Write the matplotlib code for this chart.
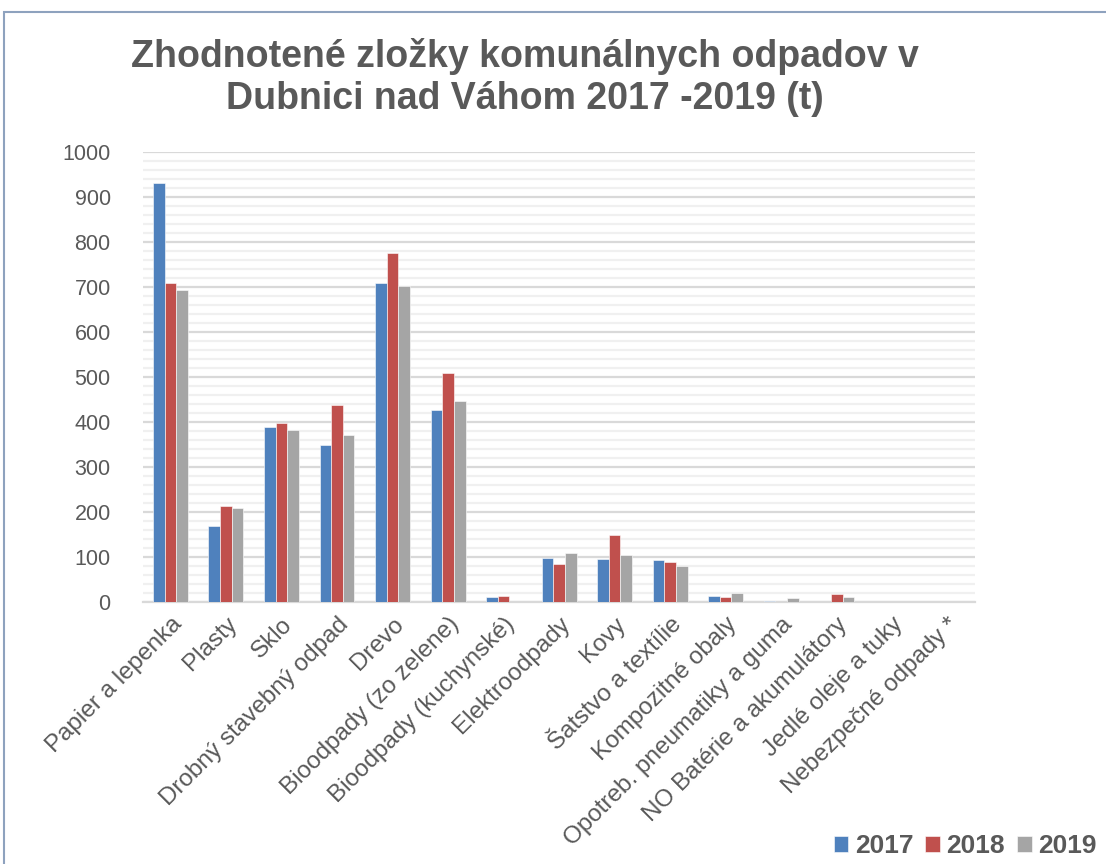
import numpy as np
import matplotlib
matplotlib.use("Agg")
from matplotlib import pyplot as plt
from matplotlib.patches import Rectangle
from matplotlib.ticker import MultipleLocator

kategorie = ["Papier a lepenka", "Plasty", "Sklo", "Drobný stavebný odpad", "Drevo",
             "Bioodpady (zo zelene)", "Bioodpady (kuchynské)", "Elektroodpady", "Kovy",
             "Šatstvo a textílie", "Kompozitné obaly", "Opotreb. pneumatiky a guma",
             "NO Batérie a akumulátory", "Jedlé oleje a tuky", "Nebezpečné odpady *"]
roky = ["2017", "2018", "2019"]
r2017 = [931, 170, 389, 349, 710, 426, 11, 98, 97, 94, 13, 2, 1, 1, 0]
r2018 = [709, 213, 399, 438, 775, 509, 13, 85, 149, 89, 12, 0, 18, 0, 0]
r2019 = [693, 209, 382, 372, 703, 446, 0, 109, 104, 81, 21, 9, 11, 1.5, 1.5]
farby = ["#4F81BD", "#C0504D", "#A5A5A5"]

plt.rcParams['font.family'] = ['Liberation Sans', 'DejaVu Sans']
sed = "#595959"

fig = plt.figure(figsize=(11.06, 8.64), dpi=100)
ax = fig.add_axes([0.129, 0.303, 0.753, 0.521])

x = np.arange(len(kategorie))
w = 0.21
for i, (vals, c) in enumerate(zip([r2017, r2018, r2019], farby)):
    ax.bar(x + (i - 1) * w, vals, w, color=c, edgecolor="white", linewidth=0.4,
           label=roky[i], zorder=3)

ax.set_xlim(-0.5, len(kategorie) - 0.5)
ax.set_ylim(0, 1000)
ax.yaxis.set_major_locator(MultipleLocator(100))
ax.yaxis.set_minor_locator(MultipleLocator(20))
ax.grid(which="major", axis="y", color="#D9D9D9", linewidth=1.6, zorder=0)
ax.grid(which="minor", axis="y", color="#F0F0F0", linewidth=1.6, zorder=0)
ax.tick_params(axis="y", which="both", length=0, labelsize=15.5, labelcolor=sed, pad=23)
ax.set_xticks(x)
ax.set_xticklabels(kategorie, rotation=45, ha="right", va="top",
                   rotation_mode="anchor", fontsize=17.5, color=sed)
ax.tick_params(axis="x", length=0, pad=8)
for s in ["top", "right", "left"]:
    ax.spines[s].set_visible(False)
ax.spines["bottom"].set_color("#D9D9D9")
ax.spines["bottom"].set_linewidth(1.6)

fig.text(0.475, 0.910, "Zhodnotené zložky komunálnych odpadov v\nDubnici nad Váhom 2017 -2019 (t)",
         ha="center", va="center", fontsize=27, fontweight="bold", color=sed,
         linespacing=1.2)

fig.legend(loc="lower right", bbox_to_anchor=(1.013, -0.021), ncol=3, frameon=False,
           prop={"size": 19, "weight": "bold"}, labelcolor=sed,
           handlelength=0.55, handleheight=0.55, handletextpad=0.25, columnspacing=0.45)

fig.patches.append(Rectangle((0.004, -0.05), 1.2, 1.036, transform=fig.transFigure,
                             fill=False, edgecolor="#8EA2BE", linewidth=1.5))

fig.savefig("out.png", dpi=100)
